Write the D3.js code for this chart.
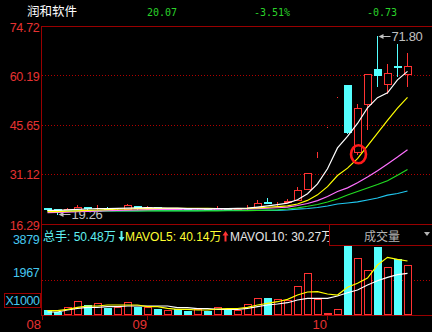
<!DOCTYPE html>
<html>
<head>
<meta charset="utf-8">
<script src="https://cdn.jsdelivr.net/npm/d3@7"></script>
<style>
  html, body { margin: 0; padding: 0; background: #000; }
  svg { display: block; }
  text { font-family: "Liberation Sans", Arial, "Noto Sans CJK SC", sans-serif; }
</style>
</head>
<body>
<svg id="chart"></svg>
<script>
// header quote
const stockName = "润和软件";
const quote = ["20.07", "-3.51%", "-0.73"];
const volHeader = ["总手: 50.48万", "MAVOL5: 40.14万", "MAVOL10: 30.27万"];

// daily candles
const open  = [20.90,20.60,20.40,20.50,21.30,20.95,21.10,20.95,20.85,21.60,21.01,21.20,20.85,20.95,20.80,20.70,20.85,20.42,21.05,20.75,21.25,21.40,22.90,22.65,22.75,23.37,26.53,37.45,45.00,53.67,57.31,37.45,51.61,61.94,57.52,62.92,60.47];
const high  = [21.05,20.75,21.00,21.80,21.45,21.90,21.20,21.15,22.19,21.70,21.70,21.30,21.05,21.05,20.90,21.00,20.95,21.50,21.10,21.00,21.90,23.37,24.05,22.72,23.70,27.30,31.25,37.45,45.00,53.67,57.31,51.60,60.47,71.80,63.51,69.41,66.84];
const low   = [20.55,19.26,20.30,20.45,20.80,20.85,20.85,20.85,20.80,20.75,20.95,20.80,20.75,20.70,20.60,20.65,20.60,20.40,20.50,20.70,20.72,21.30,22.80,21.69,22.70,23.30,26.50,36.15,45.00,53.67,43.23,36.80,44.32,57.10,55.04,60.05,57.10];
const close = [20.60,20.35,20.85,21.31,20.95,21.10,20.95,21.05,21.80,20.85,21.40,20.90,20.95,20.80,20.70,20.85,20.70,21.10,20.75,20.90,21.31,22.39,22.87,22.69,22.93,26.32,31.25,37.45,45.00,53.67,43.23,50.43,60.47,60.05,60.76,62.41,62.92];
const volume = [281,185,450,787,562,658,410,450,714,466,450,337,281,320,225,320,242,433,320,281,618,939,939,882,843,1630,2344,882,96,320,3879,3187,2529,3850,2681,3130,2810];

// moving averages as drawn
const ma5  = [20.33,20.33,20.45,20.60,20.72,20.80,20.85,20.90,21.00,21.05,21.10,21.05,21.00,20.95,20.85,20.80,20.78,20.80,20.84,20.88,20.95,21.29,21.64,22.03,22.44,23.44,25.21,28.13,32.59,38.74,42.12,45.96,50.56,53.57,54.99,58.82,61.32];
const ma10 = [19.92,19.95,20.05,20.15,20.30,20.42,20.55,20.65,20.72,20.80,20.85,20.90,20.92,20.92,20.90,20.90,20.88,20.86,20.85,20.85,20.90,21.05,21.24,21.43,21.65,22.20,23.25,24.89,27.31,30.59,32.78,35.58,39.34,43.08,46.86,50.47,53.64];
const ma20 = [19.63,19.70,19.80,19.90,20.00,20.10,20.20,20.30,20.38,20.45,20.52,20.57,20.60,20.62,20.64,20.66,20.68,20.70,20.72,20.74,20.78,20.85,20.95,21.08,21.25,21.75,22.35,23.20,24.40,25.90,26.95,28.45,30.15,32.00,34.00,36.05,38.20];
const ma30 = [20.10,20.10,20.11,20.12,20.12,20.13,20.13,20.14,20.15,20.15,20.15,20.16,20.16,20.17,20.17,20.18,20.18,20.19,20.20,20.20,20.22,20.27,20.36,20.48,20.72,21.07,21.52,22.05,22.78,23.67,24.85,25.89,26.91,27.95,29.07,30.69,32.38];
const ma60 = [20.12,20.13,20.13,20.14,20.15,20.15,20.16,20.17,20.18,20.18,20.20,20.21,20.22,20.24,20.25,20.26,20.28,20.29,20.30,20.31,20.31,20.32,20.33,20.33,20.42,20.66,20.86,21.16,21.60,22.19,22.49,22.84,23.37,23.96,24.79,25.29,26.03];
const volMa5  = [242,242,320,433,506,506,562,562,562,562,466,466,377,320,320,281,281,337,354,365,433,562,658,747,882,1124,1293,1309,1180,1124,1557,1782,2079,2810,3243,3130,3035];
const volMa10 = [169,169,281,377,433,433,466,466,506,506,506,506,506,410,410,354,354,320,320,320,377,466,562,618,691,843,939,939,939,1068,1253,1405,1686,1928,2119,2265,2344];

// axes
const priceTicks = [74.72, 60.19, 45.65, 31.12, 16.29];
const volTicks = [3879, 1967];
const monthLabels = ["08", "09", "10"];
const monthStart = [0, 10, 28];

const width = 432;
const height = 332;
const left = 41;
const priceTop = 26, priceBottom = 224;
const volTop = 246, volBottom = 315;

const RED = "#ff3232";
const CYAN = "#54ffff";
const LINE_RED = "#990000";
const AXIS_RED = "#e63232";
const GREEN = "#2ad22a";

const svg = d3.select('#chart')
  .attr('width', width)
  .attr('height', height);

svg.append('rect')
  .attr('width', width)
  .attr('height', height)
  .attr('fill', '#000');

const xScale = d3.scaleBand()
  .domain(d3.range(close.length))
  .range([42.5, 412.5]);
const cx = i => xScale(i) + xScale.bandwidth() / 2;

const yScale = d3.scaleLinear()
  .domain([16.29, 74.72])
  .range([priceBottom, priceTop]);

const vScale = d3.scaleLinear()
  .domain([0, 3879])
  .range([volBottom, volTop]);

const px = v => Math.round(v) + 0.5;

// header
svg.append('text')
  .attr('x', 27).attr('y', 16)
  .attr('fill', '#fff')
  .style('font-size', '12.5px')
  .text(stockName);

svg.selectAll('.quote')
  .data(quote)
  .enter().append('text')
  .attr('class', 'quote')
  .attr('x', (d, i) => [147, 254, 367][i])
  .attr('y', 16)
  .attr('fill', GREEN)
  .style('font-family', '"DejaVu Sans Mono", monospace')
  .style('font-size', '10px')
  .text(d => d);

// frame lines
svg.append('line')
  .attr('x1', left).attr('x2', width)
  .attr('y1', priceTop + 0.5).attr('y2', priceTop + 0.5)
  .attr('stroke', LINE_RED);

svg.append('line')
  .attr('x1', left).attr('x2', width)
  .attr('y1', priceBottom + 0.5).attr('y2', priceBottom + 0.5)
  .attr('stroke', LINE_RED);

svg.append('line')
  .attr('x1', left).attr('x2', width)
  .attr('y1', volBottom + 0.5).attr('y2', volBottom + 0.5)
  .attr('stroke', LINE_RED);

svg.append('line')
  .attr('x1', left + 0.5).attr('x2', left + 0.5)
  .attr('y1', priceTop).attr('y2', volBottom + 1)
  .attr('stroke', LINE_RED);

// dotted grid
svg.selectAll('.p-grid')
  .data(priceTicks.slice(1, -1))
  .enter().append('line')
  .attr('class', 'p-grid')
  .attr('x1', left + 1).attr('x2', width)
  .attr('y1', d => px(yScale(d))).attr('y2', d => px(yScale(d)))
  .attr('stroke', '#b00000')
  .attr('stroke-dasharray', '1,2');

svg.selectAll('.v-grid')
  .data(volTicks.slice(1))
  .enter().append('line')
  .attr('class', 'v-grid')
  .attr('x1', left + 1).attr('x2', width)
  .attr('y1', d => px(vScale(d))).attr('y2', d => px(vScale(d)))
  .attr('stroke', '#b00000')
  .attr('stroke-dasharray', '1,2');

// price labels
svg.selectAll('.p-label')
  .data(priceTicks)
  .enter().append('text')
  .attr('class', 'p-label')
  .attr('x', 39.5)
  .attr('y', d => yScale(d) + 5.5)
  .attr('text-anchor', 'end')
  .attr('fill', AXIS_RED)
  .style('font-size', '12.5px')
  .style('letter-spacing', '-0.3px')
  .text(d => d.toFixed(2));

// volume labels
svg.selectAll('.v-label')
  .data(volTicks)
  .enter().append('text')
  .attr('class', 'v-label')
  .attr('x', 39.5)
  .attr('y', (d, i) => vScale(d) - (i === 0 ? 2 : 3))
  .attr('text-anchor', 'end')
  .attr('fill', '#46c8f0')
  .style('font-size', '12.5px')
  .style('letter-spacing', '-0.3px')
  .text(d => d);

svg.append('rect')
  .attr('x', 4.5).attr('y', 293.5)
  .attr('width', 36).attr('height', 14)
  .attr('fill', 'none')
  .attr('stroke', LINE_RED);

svg.append('text')
  .attr('x', 22.5).attr('y', 305)
  .attr('text-anchor', 'middle')
  .attr('fill', '#46c8f0')
  .style('font-size', '12.5px')
  .style('letter-spacing', '-0.4px')
  .text('X1000');

// month axis
svg.selectAll('.m-tick')
  .data(monthStart)
  .enter().append('line')
  .attr('class', 'm-tick')
  .attr('x1', d => d === 0 ? left + 1.5 : Math.floor(cx(d)) + 0.5)
  .attr('x2', d => d === 0 ? left + 1.5 : Math.floor(cx(d)) + 0.5)
  .attr('y1', volBottom).attr('y2', volBottom + 5)
  .attr('stroke', LINE_RED);

svg.selectAll('.m-label')
  .data(monthStart)
  .enter().append('text')
  .attr('class', 'm-label')
  .attr('x', d => d === 0 ? left : Math.floor(cx(d)))
  .attr('y', 328.5)
  .attr('text-anchor', 'end')
  .attr('fill', AXIS_RED)
  .style('font-size', '13px')
  .text((d, i) => monthLabels[i]);

// min price marker (drawn below the MA lines)
const minIdx = d3.minIndex(low);
const maxIdx = d3.maxIndex(high);

function marker(i, v) {
  const y = yScale(v);
  const x0 = cx(i) + 1;
  svg.append('line')
    .attr('x1', x0 + 4).attr('x2', x0 + 12)
    .attr('y1', px(y)).attr('y2', px(y))
    .attr('stroke', '#c0c0c0');
  svg.append('path')
    .attr('d', `M${x0},${px(y)}L${x0 + 5},${px(y) - 2.5}L${x0 + 5},${px(y) + 2.5}Z`)
    .attr('fill', '#c0c0c0');
  svg.append('text')
    .attr('x', x0 + 13).attr('y', y + 5)
    .attr('fill', '#c0c0c0')
    .style('font-size', '13px')
    .style('letter-spacing', '-0.3px')
    .text(v.toFixed(2));
}
marker(minIdx, low[minIdx]);

// candles
const candles = svg.append('g').attr('shape-rendering', 'crispEdges');
const idx = d3.range(close.length);
const up = i => close[i] >= open[i];

candles.selectAll('.wick')
  .data(idx)
  .enter().append('line')
  .attr('class', 'wick')
  .attr('x1', cx).attr('x2', cx)
  .attr('y1', i => Math.round(yScale(high[i])))
  .attr('y2', i => Math.round(yScale(low[i])) + 1)
  .attr('stroke', i => up(i) ? RED : CYAN);

candles.selectAll('.body')
  .data(idx)
  .enter().append('rect')
  .attr('class', 'body')
  .attr('x', i => up(i) ? cx(i) - 3 : cx(i) - 3.5)
  .attr('width', i => up(i) ? 7 : 8)
  .attr('y', i => up(i) ? px(yScale(close[i])) : Math.round(yScale(open[i])))
  .attr('height', i => up(i)
    ? Math.round(yScale(open[i])) - Math.round(yScale(close[i]))
    : Math.max(2, Math.round(yScale(close[i])) - Math.round(yScale(open[i]))))
  .attr('fill', i => up(i) ? '#000' : CYAN)
  .attr('stroke', i => up(i) ? RED : 'none');

// price moving averages
const maLine = d3.line().x((d, i) => cx(i)).y(d => yScale(d));
const maSeries = [
  { values: ma60, color: '#20c8f0' },
  { values: ma30, color: '#22dd22' },
  { values: ma20, color: '#ff70ff' },
  { values: ma10, color: '#ffff00' },
  { values: ma5,  color: '#ffffff' }
];
svg.selectAll('.ma')
  .data(maSeries)
  .enter().append('path')
  .attr('class', 'ma')
  .attr('d', d => maLine(d.values))
  .attr('fill', 'none')
  .attr('stroke', d => d.color)
  .attr('stroke-width', 1.2);

marker(maxIdx, high[maxIdx]);

// circle annotation on the rebound day
svg.append('ellipse')
  .attr('cx', cx(31) + 1)
  .attr('cy', yScale(open[31]) + 2)
  .attr('rx', 7.5).attr('ry', 9)
  .attr('fill', 'none')
  .attr('stroke', '#ff1a1a')
  .attr('stroke-width', 2.6);

// volume bars
const vol = svg.append('g').attr('shape-rendering', 'crispEdges');
vol.selectAll('.vbar')
  .data(idx)
  .enter().append('rect')
  .attr('class', 'vbar')
  .attr('x', i => up(i) ? cx(i) - 3 : cx(i) - 3.5)
  .attr('width', i => up(i) ? 7 : 8)
  .attr('y', i => up(i) ? px(vScale(volume[i])) : Math.round(vScale(volume[i])))
  .attr('height', i => up(i)
    ? volBottom - 1 - Math.round(vScale(volume[i]))
    : volBottom - Math.round(vScale(volume[i])))
  .attr('fill', i => up(i) ? '#000' : CYAN)
  .attr('stroke', i => up(i) ? RED : 'none');

const vLine = d3.line().x((d, i) => cx(i)).y(d => vScale(d));
svg.append('path')
  .attr('d', vLine(volMa10))
  .attr('fill', 'none')
  .attr('stroke', '#ffffff')
  .attr('stroke-width', 1.2);
svg.append('path')
  .attr('d', vLine(volMa5))
  .attr('fill', 'none')
  .attr('stroke', '#ffff00')
  .attr('stroke-width', 1.2);

// volume header
svg.append('text')
  .attr('x', 43).attr('y', 241)
  .attr('fill', '#5ff0f0')
  .style('font-size', '12px')
  .text(volHeader[0]);

svg.append('path')
  .attr('d', 'M120.5,231V237H118.5L121.5,241.5L124.5,237H122.5V231Z')
  .attr('fill', '#5ff0f0');

svg.append('text')
  .attr('x', 125).attr('y', 241)
  .attr('fill', '#ffff33')
  .style('font-size', '12px')
  .text(volHeader[1]);

svg.append('path')
  .attr('d', 'M224.5,241.5V235.5H222.5L225.5,231L228.5,235.5H226.5V241.5Z')
  .attr('fill', RED);

svg.append('text')
  .attr('x', 230).attr('y', 241)
  .attr('fill', '#e6e6e6')
  .style('font-size', '12px')
  .text(volHeader[2]);

// indicator selector box
svg.append('rect')
  .attr('x', 329.5).attr('y', 224.5)
  .attr('width', 104).attr('height', 21)
  .attr('fill', '#000')
  .attr('stroke', LINE_RED)
  .attr('shape-rendering', 'crispEdges');

svg.append('text')
  .attr('x', 382).attr('y', 241)
  .attr('text-anchor', 'middle')
  .attr('fill', '#b4b4b4')
  .style('font-size', '12px')
  .text('成交量');

svg.append('path')
  .attr('d', 'M424,232H430L427,236Z')
  .attr('fill', '#b4b4b4');
</script>
</body>
</html>
